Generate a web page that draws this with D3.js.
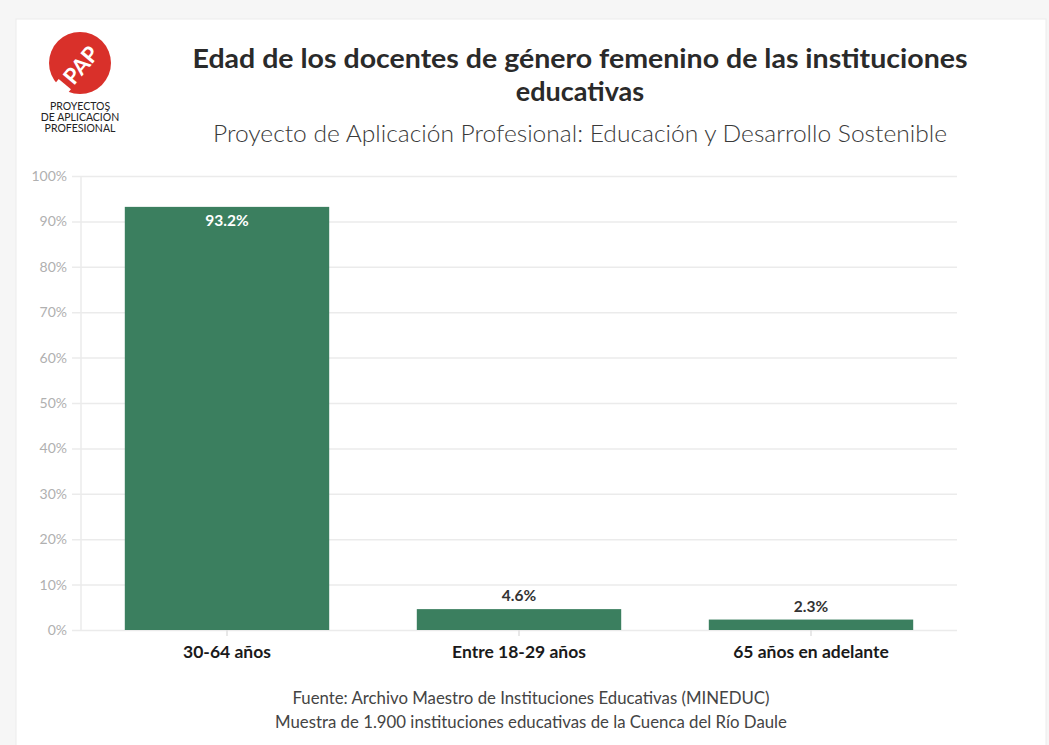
<!DOCTYPE html>
<html>
<head>
<meta charset="utf-8">
<script src="https://cdn.jsdelivr.net/npm/d3@7"></script>
<style>
  body { margin:0; background:#f6f6f6; }
  svg { display:block; }
</style>
</head>
<body>
<svg id="chart" width="1049" height="745"></svg>
<script>
// data
const categories = ["30-64 años", "Entre 18-29 años", "65 años en adelante"];
const values = [93.2, 4.6, 2.3];
const yTicks = [0, 10, 20, 30, 40, 50, 60, 70, 80, 90, 100];
const titleLines = ["Edad de los docentes de género femenino de las instituciones", "educativas"];
const subtitle = "Proyecto de Aplicación Profesional: Educación y Desarrollo Sostenible";
const sourceLines = ["Fuente: Archivo Maestro de Instituciones Educativas (MINEDUC)",
                     "Muestra de 1.900 instituciones educativas de la Cuenca del Río Daule"];
const logoLines = ["PROYECTOS", "DE APLICACIÓN", "PROFESIONAL"];

const FONT = "'Source Sans Pro', Lato, 'Open Sans', sans-serif";
const PAD = {LEFT:81, RIGHT:957, TOP:176, BOTTOM:630};
const BAR_COLOR = "#3b7f5f";

const svg = d3.select("#chart");

// white card
svg.append("rect").attr("x",16).attr("y",19).attr("width",1030).attr("height",740)
   .attr("fill","#fff").attr("stroke","#ececec");

// logo
let logo = svg.append("g").attr("transform","translate(80,63)");
logo.append("circle").attr("r",31).attr("fill","#d9302a");
let mark = logo.append("g").attr("transform","rotate(-50)");
mark.append("rect").attr("x",-34).attr("y",-6).attr("width",8).attr("height",16).attr("fill","#fff");
mark.append("text").text("PAP")
    .attr("x",-1).attr("y",10)
    .attr("text-anchor","middle").attr("font-family",FONT)
    .attr("font-weight","bold").attr("font-size",22).attr("fill","#fff");
logo.selectAll("text.lg").data(logoLines).join("text").attr("class","lg")
    .attr("x",0).attr("y",(d,i)=>47+i*11)
    .attr("text-anchor","middle").attr("font-family",FONT)
    .attr("font-size",10.5).attr("fill","#222").text(d=>d);

// titles
svg.selectAll("text.title").data(titleLines).join("text").attr("class","title")
   .attr("x",580).attr("y",(d,i)=>68+i*33)
   .attr("text-anchor","middle").attr("font-family",FONT)
   .attr("font-weight","bold").attr("font-size",27).attr("fill","#2a2a2a")
   .attr("textLength",(d,i)=>i===0?775:null)
   .attr("lengthAdjust","spacingAndGlyphs")
   .text(d=>d);
svg.append("text").attr("x",580).attr("y",142)
   .attr("text-anchor","middle").attr("font-family",FONT)
   .attr("font-size",23.5).attr("fill","#3a3a3a").attr("font-weight",300)
   .attr("textLength",734).attr("lengthAdjust","spacingAndGlyphs")
   .text(subtitle);

// scales
let xScale = d3.scaleBand().domain(categories).range([PAD.LEFT,PAD.RIGHT])
               .paddingInner(0.3).paddingOuter(0.15);
let yScale = d3.scaleLinear().domain([0,100]).range([PAD.BOTTOM,PAD.TOP]);

// grid + y axis
let yaxis = d3.axisLeft(yScale).tickValues(yTicks).tickFormat(d=>d+"%")
              .tickSize(-(PAD.RIGHT-PAD.LEFT)).tickPadding(14);
let gy = svg.append("g").attr("transform","translate("+PAD.LEFT+",0)").call(yaxis);
gy.select(".domain").remove();
gy.selectAll(".tick line").attr("stroke","#ebebeb").attr("stroke-width",1.5)
  .attr("x1",-9);
gy.selectAll(".tick text").attr("font-family",FONT).attr("font-size",14).attr("fill","#b0b0b0");
svg.append("line").attr("x1",PAD.LEFT).attr("x2",PAD.LEFT)
   .attr("y1",PAD.TOP).attr("y2",PAD.BOTTOM).attr("stroke","#ebebeb").attr("stroke-width",1.5);

// bars
svg.append("g").selectAll("rect").data(values).join("rect")
   .attr("x",(d,i)=>xScale(categories[i]))
   .attr("width",xScale.bandwidth())
   .attr("y",d=>yScale(d))
   .attr("height",d=>yScale(0)-yScale(d))
   .attr("fill",BAR_COLOR);

// value labels
svg.append("g").selectAll("text").data(values).join("text")
   .attr("x",(d,i)=>xScale(categories[i])+xScale.bandwidth()/2)
   .attr("y",d=>d>50 ? yScale(d)+19 : yScale(d)-8)
   .attr("text-anchor","middle").attr("font-family",FONT)
   .attr("font-weight","bold").attr("font-size",15.5)
   .attr("fill",d=>d>50 ? "#fff" : "#333")
   .text(d=>d.toFixed(1)+"%");

// x axis
let xaxis = d3.axisBottom(xScale).tickSize(6).tickPadding(10);
let gx = svg.append("g").attr("transform","translate(0,"+PAD.BOTTOM+")").call(xaxis);
gx.select(".domain").remove();
gx.selectAll(".tick line").attr("stroke","#e0e0e0").attr("stroke-width",1.5);
gx.selectAll(".tick text").attr("font-family",FONT).attr("font-weight","bold")
  .attr("font-size",17.5).attr("fill","#1a1a1a");

// source
svg.selectAll("text.src").data(sourceLines).join("text").attr("class","src")
   .attr("x",531).attr("y",(d,i)=>704+i*24)
   .attr("text-anchor","middle").attr("font-family",FONT)
   .attr("font-size",16.8).attr("fill","#444")
   .text(d=>d);
</script>
</body>
</html>
